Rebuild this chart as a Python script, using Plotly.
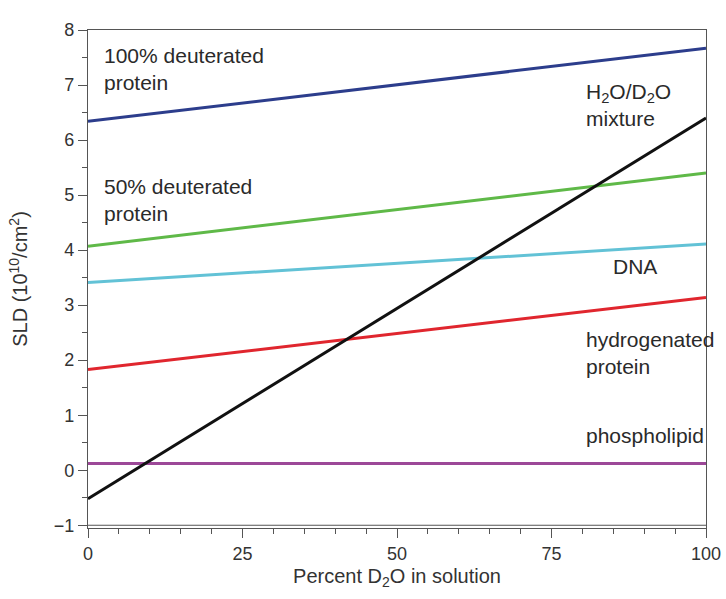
import plotly.graph_objects as go

percent_d2o = [0, 100]
deut100 = [6.34, 7.67]
deut50 = [4.07, 5.40]
dna = [3.41, 4.11]
hydrogenated = [1.83, 3.14]
phospholipid = [0.12, 0.12]
water = [-0.52, 6.40]

series = [
    ("100% deuterated protein", deut100, "#2c3d8c"),
    ("50% deuterated protein", deut50, "#5fb948"),
    ("DNA", dna, "#62c2d6"),
    ("hydrogenated protein", hydrogenated, "#e0262e"),
    ("phospholipid", phospholipid, "#9c4898"),
    ("H2O/D2O mixture", water, "#111111"),
]

labels = [
    ("100% deuterated<br>protein", 2.3, 7.30),
    ("50% deuterated<br>protein", 2.3, 4.91),
    ("H<sub>2</sub>O/D<sub>2</sub>O<br>mixture", 80.3, 6.63),
    ("DNA", 84.6, 3.70),
    ("hydrogenated<br>protein", 80.3, 2.13),
    ("phospholipid", 80.2, 0.63),
]

x_ticks = [0, 25, 50, 75, 100]
y_ticks = [-1, 0, 1, 2, 3, 4, 5, 6, 7, 8]

FONT = "Liberation Sans, Arial, Helvetica, sans-serif"

fig = go.Figure()
for name, ys, col in series:
    fig.add_trace(go.Scatter(x=percent_d2o, y=ys, mode="lines", name=name,
                             line=dict(color=col, width=3), showlegend=False))

for txt, xx, yy in labels:
    fig.add_annotation(x=xx, y=yy, text=txt, showarrow=False, xanchor="left",
                       yanchor="middle", align="left",
                       font=dict(family=FONT, size=21, color="#2a2a2a"))

fig.add_shape(type="line", x0=0, x1=100, y0=-1, y1=-1, xref="x", yref="y",
              line=dict(color="#555555", width=1.2))

fig.update_layout(
    width=726, height=599,
    margin=dict(l=88, r=20, t=30, b=71, autoexpand=False),
    paper_bgcolor="white", plot_bgcolor="white",
    font=dict(family=FONT, size=18, color="#333333"),
    xaxis=dict(range=[0, 100], tickvals=x_ticks, ticks="outside", ticklen=9,
               tickcolor="#555555", showgrid=False, zeroline=False, automargin=False,
               showline=True, linecolor="#555555", linewidth=1.2, mirror=True,
               minor=dict(dtick=5, ticks="outside", ticklen=5, tickcolor="#555555"),
               title=dict(text="Percent D<sub>2</sub>O in solution",
                          font=dict(size=20), standoff=6),
               tickfont=dict(size=18)),
    yaxis=dict(range=[-1.05, 8], tickvals=y_ticks,
               ticktext=["\u22121", "0", "1", "2", "3", "4", "5", "6", "7", "8"],
               ticks="outside", ticklen=9, automargin=False,
               tickcolor="#555555", showgrid=False, zeroline=False,
               showline=True, linecolor="#555555", linewidth=1.2, mirror=True,
               minor=dict(dtick=0.5, ticks="outside", ticklen=5, tickcolor="#555555"),
               title=dict(text="SLD (10<sup>10</sup>/cm<sup>2</sup>)",
                          font=dict(size=20), standoff=20),
               tickfont=dict(size=18)),
)

fig.write_html("out.html", config={"displayModeBar": False},
               post_script="document.body.style.margin='0';document.body.style.overflow='hidden';")
